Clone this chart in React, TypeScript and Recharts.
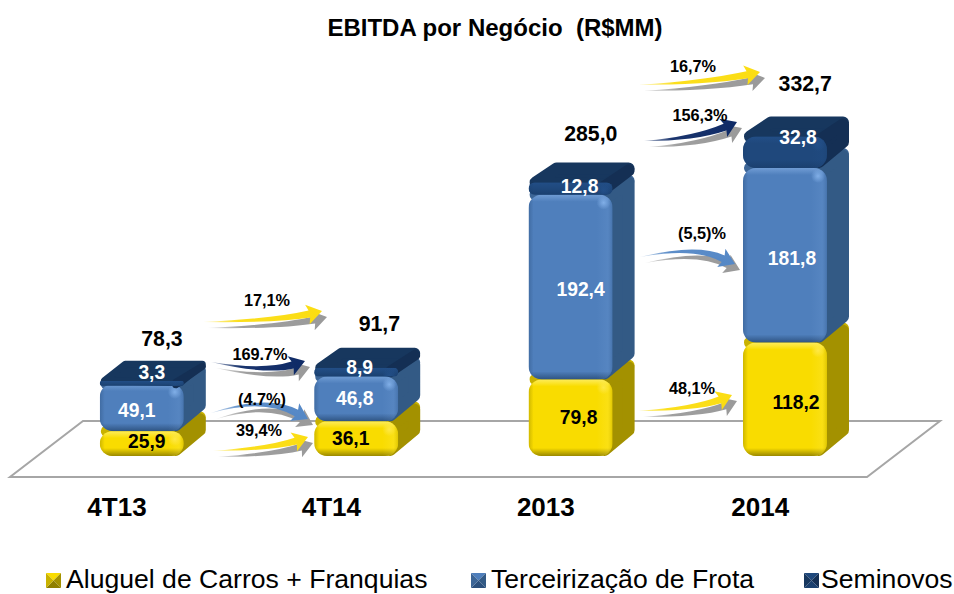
import React from "react";
import { ComposedChart, Bar, Line, XAxis, YAxis, Legend, LabelList } from "recharts";

const categories = ["4T13", "4T14", "2013", "2014"];
const aluguel = [25.9, 36.1, 79.8, 118.2];
const terceirizacao = [49.1, 46.8, 192.4, 181.8];
const seminovos = [3.3, 8.9, 12.8, 32.8];
const totals = [78.3, 91.7, 285.0, 332.7];

const tableData = categories.map((c, i) => ({
  c,
  aluguel: aluguel[i],
  terceirizacao: terceirizacao[i],
  seminovos: seminovos[i],
  total: totals[i],
}));

// hand placed label nudges of the original, relative to the library's anchor
const yellowNudge = [[5, -2.5], [-5.5, 0], [8, 0], [11, 3.5]];
const blueNudge = [[-5, 2.5], [-1.5, 0], [10, 2], [7, 3]];
const darkNudge = [[10, -10], [3.5, -5], [9, -2.5], [13, -15]];
const totalNudge = [[20, -42], [23, -44], [20, -48], [20, -52.5]];

const FONT = "'Liberation Sans', Arial, sans-serif";
const DX = 22;
const DY = 20;

const palette = {
  yellow: { front: "#f9dc00", side: "#a39100", top: "#c9b200", hi: "#fff27a", lo: "#8f7f00", glow: "#ffe94d" },
  blue: { front: "#4f7fbc", side: "#335a85", top: "#3c6596", hi: "#7ba6dc", lo: "#2b4f7c", glow: "#86b4ec" },
  dark: { front: "#1f487c", side: "#142f54", top: "#17375e", hi: "#23508a", lo: "#1a3f6e", glow: "#23508a" },
};

type Tone = keyof typeof palette;

const makeBox = (tone: Tone) => (props: any) => {
  const { x, y, width, height, index } = props;
  const p = palette[tone];
  const h = Math.max(height, 5);
  const r = Math.min(13, h / 2);
  const inset = Math.min(6, h / 2 + 1);
  const id = `clip-${tone}-${index}`;
  const right = x + width;
  const sideTop = y - DY + inset + 2;
  const sideBottom = Math.max(sideTop, y + h - DY - inset);
  return (
    <g>
      <polygon
        points={`${x + inset + 1},${y} ${x + DX + inset},${y - DY + inset} ${right + DX - inset},${y - DY + inset} ${right - inset},${y + 2}`}
        fill={p.top}
        stroke={p.top}
        strokeWidth={inset * 2}
        strokeLinejoin="round"
      />
      <polygon
        points={`${right - 8},${y + 4} ${right + DX - inset},${sideTop} ${right + DX - inset},${sideBottom} ${right - 8},${y + h - inset}`}
        fill={p.side}
        stroke={p.side}
        strokeWidth={inset * 2}
        strokeLinejoin="round"
      />
      <clipPath id={id}>
        <rect x={x} y={y} width={width} height={h} rx={r} ry={r} />
      </clipPath>
      <g clipPath={`url(#${id})`}>
        <rect x={x} y={y} width={width} height={h} fill={p.front} />
        <rect x={x} y={y} width={width} height={Math.min(7, h / 2)} fill={`url(#top-${tone})`} />
        <rect x={x} y={y + h - Math.min(8, h / 2)} width={width} height={Math.min(8, h / 2)} fill={`url(#bot-${tone})`} />
        <rect x={x} y={y} width={5} height={h} fill={`url(#left-${tone})`} />
        <rect x={right - 16} y={y} width={16} height={h} fill={`url(#right-${tone})`} />
        <circle cx={right - 9} cy={y + 8} r={7} fill={`url(#glow-${tone})`} />
      </g>
    </g>
  );
};

const fmt = (v: number) => v.toFixed(1).replace(".", ",");

const makeValueLabel = (nudge: number[][], color: string) => (props: any) => {
  const { x, y, width, height, value, index } = props;
  const [nx, ny] = nudge[index];
  return (
    <text
      x={x + width / 2 + nx}
      y={y + height / 2 + ny}
      textAnchor="middle"
      dominantBaseline="central"
      fontFamily={FONT}
      fontWeight="bold"
      fontSize={19.3}
      fill={color}
    >
      {fmt(Number(value))}
    </text>
  );
};

const TotalLabel = (props: any) => {
  const { x, y, value, index } = props;
  const [nx, ny] = totalNudge[index];
  return (
    <text
      x={x + nx}
      y={y + ny}
      textAnchor="middle"
      dominantBaseline="central"
      fontFamily={FONT}
      fontWeight="bold"
      fontSize={21.3}
      fill="#000"
    >
      {fmt(Number(value))}
    </text>
  );
};

const CategoryTick = (props: any) => {
  const { x, y, payload } = props;
  return (
    <text x={x - 25} y={y + 52} textAnchor="middle" fontFamily={FONT} fontWeight="bold" fontSize={26} fill="#000">
      {payload.value}
    </text>
  );
};

type Growth = {
  label: string;
  lx: number;
  ly: number;
  tail: [number, number];
  ctrl: [number, number];
  tip: [number, number];
  tone: string;
};

const growthArrows: Growth[] = [
  { label: "17,1%", lx: 267, ly: 300, tail: [203, 322], ctrl: [275, 322], tip: [322, 311], tone: "yellow" },
  { label: "169.7%", lx: 260, ly: 354, tail: [211, 362], ctrl: [265, 374], tip: [305, 361], tone: "navy" },
  { label: "(4.7%)", lx: 262, ly: 399, tail: [211, 413], ctrl: [265, 397], tip: [308, 419], tone: "blue" },
  { label: "39,4%", lx: 259, ly: 430, tail: [213, 451], ctrl: [270, 450], tip: [308, 437], tone: "yellow" },
  { label: "16,7%", lx: 693, ly: 66, tail: [638, 85], ctrl: [705, 84], tip: [760, 72], tone: "yellow" },
  { label: "156,3%", lx: 700, ly: 115, tail: [644, 141], ctrl: [695, 140], tip: [737, 122], tone: "navy" },
  { label: "(5,5)%", lx: 702, ly: 233, tail: [640, 257], ctrl: [695, 246], tip: [735, 264], tone: "blue" },
  { label: "48,1%", lx: 692, ly: 388, tail: [638, 411], ctrl: [695, 410], tip: [732, 395], tone: "yellow" },
];

const arrowPath = (tail: number[], ctrl: number[], tip: number[]) => {
  const ddx = tip[0] - ctrl[0];
  const ddy = tip[1] - ctrl[1];
  const len = Math.hypot(ddx, ddy);
  const ux = ddx / len;
  const uy = ddy / len;
  const nx = -uy;
  const ny = ux;
  const L = 13;
  const H = 10;
  const T = 3.6;
  const neck = [tip[0] - ux * L, tip[1] - uy * L];
  return [
    `M${tail[0]},${tail[1]}`,
    `Q${ctrl[0] - nx * T},${ctrl[1] - ny * T} ${neck[0] - nx * T},${neck[1] - ny * T}`,
    `L${neck[0] - nx * H - ux * 2},${neck[1] - ny * H - uy * 2}`,
    `L${tip[0]},${tip[1]}`,
    `L${neck[0] + nx * H - ux * 2},${neck[1] + ny * H - uy * 2}`,
    `L${neck[0] + nx * T},${neck[1] + ny * T}`,
    `Q${ctrl[0] + nx * 1},${ctrl[1] + ny * 1} ${tail[0]},${tail[1]}`,
    "Z",
  ].join(" ");
};

const Defs = () => {
  const stripes = (Object.keys(palette) as Tone[]).map((t) => {
    const p = palette[t];
    return (
      <React.Fragment key={t}>
        <linearGradient id={`top-${t}`} x1="0" y1="0" x2="0" y2="1">
          <stop offset="0" stopColor={p.hi} stopOpacity={0.75} />
          <stop offset="1" stopColor={p.hi} stopOpacity={0} />
        </linearGradient>
        <linearGradient id={`bot-${t}`} x1="0" y1="0" x2="0" y2="1">
          <stop offset="0" stopColor={p.lo} stopOpacity={0} />
          <stop offset="1" stopColor={p.lo} stopOpacity={0.9} />
        </linearGradient>
        <linearGradient id={`left-${t}`} x1="0" y1="0" x2="1" y2="0">
          <stop offset="0" stopColor={p.lo} stopOpacity={0.4} />
          <stop offset="1" stopColor={p.lo} stopOpacity={0} />
        </linearGradient>
        <linearGradient id={`right-${t}`} x1="0" y1="0" x2="1" y2="0">
          <stop offset="0" stopColor={p.hi} stopOpacity={0} />
          <stop offset="0.7" stopColor={p.hi} stopOpacity={0.16} />
          <stop offset="1" stopColor={p.lo} stopOpacity={0.25} />
        </linearGradient>
        <radialGradient id={`glow-${t}`}>
          <stop offset="0" stopColor={p.glow} stopOpacity={0.9} />
          <stop offset="1" stopColor={p.glow} stopOpacity={0} />
        </radialGradient>
      </React.Fragment>
    );
  });
  const ramp = (id: string, color: string) => (
    <linearGradient id={id} x1="0" y1="0" x2="1" y2="0">
      <stop offset="0" stopColor={color} stopOpacity={0.25} />
      <stop offset="0.3" stopColor={color} stopOpacity={0.95} />
      <stop offset="1" stopColor={color} />
    </linearGradient>
  );
  return (
    <defs>
      {stripes}
      {ramp("arrow-yellow", "#fbdd12")}
      {ramp("arrow-navy", "#0e2a66")}
      {ramp("arrow-blue", "#5588c6")}
      {ramp("arrow-grey", "#9a9a9a")}
    </defs>
  );
};

const Floor = () => (
  <polygon points="10,477 867,477 940,421 83,421" fill="#fff" stroke="#a6a6a6" strokeWidth={2} />
);

const Arrows = () => (
  <g>
    {growthArrows.map((a) => (
      <g key={a.label}>
        <path
          d={arrowPath(
            [a.tail[0] + 5, a.tail[1] + 6],
            [a.ctrl[0] + 5, a.ctrl[1] + 6],
            [a.tip[0] + 5, a.tip[1] + 6]
          )}
          fill="url(#arrow-grey)"
        />
        <path d={arrowPath(a.tail, a.ctrl, a.tip)} fill={`url(#arrow-${a.tone})`} />
        <text
          x={a.lx}
          y={a.ly}
          textAnchor="middle"
          dominantBaseline="central"
          fontFamily={FONT}
          fontWeight="bold"
          fontSize={16.3}
          fill="#000"
        >
          {a.label}
        </text>
      </g>
    ))}
  </g>
);

const legendTones: Tone[] = ["yellow", "blue", "dark"];
const legendLeft = [46, 471, 804];

const Swatch = ({ tone }: { tone: Tone }) => {
  const p = palette[tone];
  return (
    <svg width={15} height={15} style={{ display: "block", flex: "none", marginTop: 3 }}>
      <polygon points="0,0 15,0 7.5,7.5" fill={p.front} />
      <polygon points="15,0 15,15 7.5,7.5" fill={p.side} />
      <polygon points="0,15 15,15 7.5,7.5" fill={p.lo} />
      <polygon points="0,0 0,15 7.5,7.5" fill={p.top} />
    </svg>
  );
};

const LegendContent = ({ payload }: any) => (
  <div style={{ position: "relative", width: 954, height: 30 }}>
    {(payload || [])
      .filter((e: any) => e.dataKey !== "total")
      .map((e: any, i: number) => (
        <div
          key={e.value}
          style={{
            position: "absolute",
            left: legendLeft[i],
            top: 0,
            display: "flex",
            alignItems: "center",
            whiteSpace: "nowrap",
            fontFamily: FONT,
            fontSize: 26.6,
            lineHeight: "30px",
            color: "#000",
          }}
        >
          <Swatch tone={legendTones[i]} />
          <span style={{ marginLeft: i === 2 ? 2 : 5 }}>{e.value}</span>
        </div>
      ))}
  </div>
);

export default function App() {
  return (
    <div style={{ position: "absolute", left: 0, top: 0, width: 954, height: 594, overflow: "hidden", background: "#fff" }}>
      <ComposedChart
        width={954}
        height={594}
        data={tableData}
        margin={{ top: 72, right: 61.6, bottom: 78, left: 34.8 }}
        barCategoryGap={0}
      >
        <Defs />
        <text
          x={495}
          y={27}
          textAnchor="middle"
          dominantBaseline="central"
          fontFamily={FONT}
          fontWeight="bold"
          fontSize={24}
          fill="#000"
        >
          {"EBITDA por Negócio \u00a0(R$MM)"}
        </text>
        <Floor />
        <XAxis dataKey="c" height={30} axisLine={false} tickLine={false} tick={<CategoryTick />} interval={0} />
        <YAxis hide domain={[0, 400]} />
        <Legend
          content={<LegendContent />}
          itemSorter={null}
          wrapperStyle={{ position: "absolute", left: 0, top: 563.5, width: 954, height: 30 }}
        />
        <Bar dataKey="aluguel" name="Aluguel de Carros + Franquias" stackId="a" barSize={84} fill={palette.yellow.front} shape={makeBox("yellow")} isAnimationActive={false}>
          <LabelList dataKey="aluguel" content={makeValueLabel(yellowNudge, "#000")} />
        </Bar>
        <Bar dataKey="terceirizacao" name="Terceirização de Frota" stackId="a" barSize={84} fill={palette.blue.front} shape={makeBox("blue")} isAnimationActive={false}>
          <LabelList dataKey="terceirizacao" content={makeValueLabel(blueNudge, "#fff")} />
        </Bar>
        <Bar dataKey="seminovos" name="Seminovos" stackId="a" barSize={84} fill={palette.dark.front} shape={makeBox("dark")} isAnimationActive={false}>
          <LabelList dataKey="seminovos" content={makeValueLabel(darkNudge, "#fff")} />
        </Bar>
        <Line dataKey="total" legendType="none" stroke="none" dot={false} isAnimationActive={false}>
          <LabelList dataKey="total" content={<TotalLabel />} />
        </Line>
        <Arrows />
      </ComposedChart>
    </div>
  );
}
